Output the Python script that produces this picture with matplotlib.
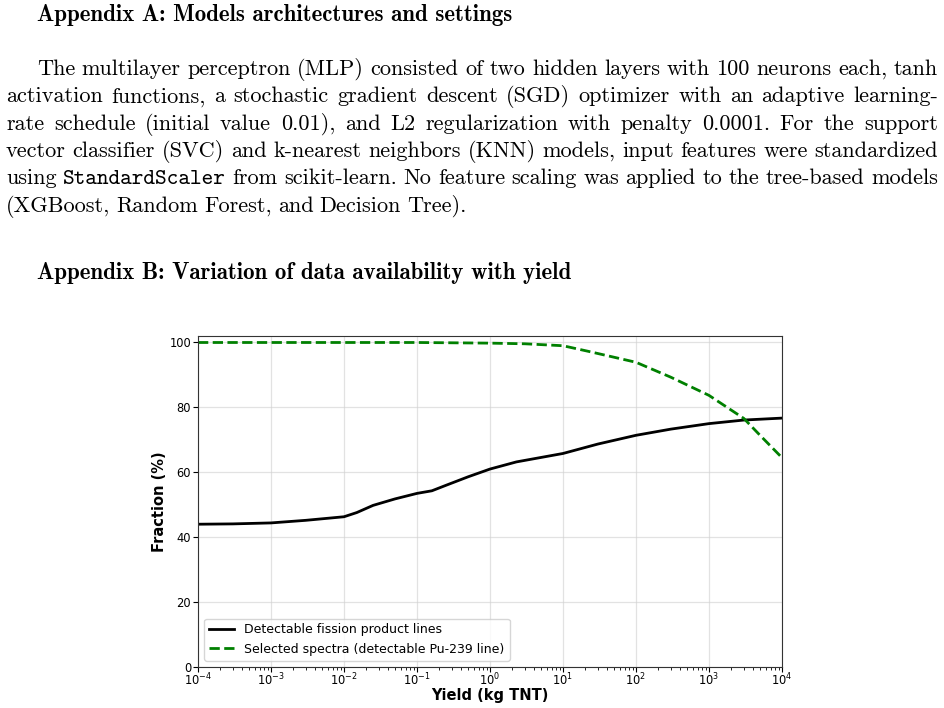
import matplotlib
matplotlib.use('Agg')
import matplotlib.pyplot as plt

W, H = 944, 708
FS = 16.0  # body font size (pt)
FS_HEAD = 16.5

heading_a = 'Appendix A: Models architectures and settings'
heading_b = 'Appendix B: Variation of data availability with yield'
para_lines = [
    'The multilayer perceptron (MLP) consisted of two hidden layers with 100 neurons each, tanh',
    'activation functions, a stochastic gradient descent (SGD) optimizer with an adaptive learning-',
    'rate schedule (initial value 0.01), and L2 regularization with penalty 0.0001.  For the support',
    'vector classifier (SVC) and k-nearest neighbors (KNN) models, input features were standardized',
    'using StandardScaler from scikit-learn. No feature scaling was applied to the tree-based models',
    '(XGBoost, Random Forest, and Decision Tree).',
]

# chart data
yield_fp = [1e-4, 3e-4, 1e-3, 3e-3, 1e-2, 1.5e-2, 2.5e-2, 5e-2, 1e-1, 1.6e-1, 2.5e-1,
            5e-1, 1e0, 2.3e0, 1e1, 3e1, 1e2, 3e2, 1e3, 3e3, 1e4]
frac_fp = [44.0, 44.1, 44.4, 45.2, 46.3, 47.6, 49.8, 51.8, 53.5, 54.3, 56.0,
           58.6, 61.0, 63.2, 65.8, 68.7, 71.4, 73.3, 75.0, 76.1, 76.7]
yield_pu = [1e-4, 1e-3, 1e-2, 1e-1, 1e0, 3e0, 1e1, 2.3e1, 1e2, 3e2, 1e3, 3e3, 5e3, 1e4]
frac_pu = [100.0, 100.0, 100.0, 100.0, 99.8, 99.6, 99.0, 97.2, 93.9, 89.3, 83.7, 76.6, 71.4, 64.5]


def fx(px):
    return px / W


def fy(py):
    return 1 - py / H


fig = plt.figure(figsize=(W / 100, H / 100), dpi=100)
renderer = fig.canvas.get_renderer()


def put_line(line, x0, x1, base, justify=True):
    texts = []
    for w in line.split():
        fam = 'cmtt10' if w == 'StandardScaler' else 'cmr10'
        texts.append(fig.text(0, fy(base), w, fontfamily=fam, fontsize=FS, va='baseline'))
    widths = [t.get_window_extent(renderer).width for t in texts]
    if justify:
        gap = (x1 - x0 - sum(widths)) / (len(texts) - 1)
    else:
        gap = FS * 100 / 72 * 0.27
    x = x0
    for t, wd in zip(texts, widths):
        t.set_x(fx(x))
        x += wd + gap


fig.text(fx(37), fy(21), heading_a, fontfamily='cmb10', fontsize=FS_HEAD, va='baseline')
fig.text(fx(37), fy(279), heading_b, fontfamily='cmb10', fontsize=FS_HEAD, va='baseline')

for i, line in enumerate(para_lines):
    base = 75 + 27.3 * i
    x0 = 37 if i == 0 else 6
    put_line(line, x0, 938, base, justify=(i < len(para_lines) - 1))

# chart
ax = fig.add_axes([fx(198), fy(667), (782 - 198) / W, (667 - 336) / H])
ax.plot(yield_fp, frac_fp, color='black', lw=2, label='Detectable fission product lines')
ax.plot(yield_pu, frac_pu, color='green', lw=2, ls='--',
        label='Selected spectra (detectable Pu-239 line)')
ax.set_xscale('log')
ax.set_xlim(1e-4, 1e4)
ax.set_ylim(0, 102)
ax.set_yticks([0, 20, 40, 60, 80, 100])
ax.grid(True, which='major', color='#d0d0d0', alpha=0.6, lw=0.9)
ax.tick_params(labelsize=8.3, pad=1.5)
ax.tick_params(axis='x', which='major', pad=0)
ax.set_xlabel('Yield (kg TNT)', fontsize=10.5, fontweight='bold', labelpad=0)
ax.set_ylabel('Fraction (%)', fontsize=10.5, fontweight='bold', labelpad=2)
for s in ax.spines.values():
    s.set_color('#333333')
ax.legend(loc='lower left', fontsize=9)

fig.savefig('out.png', dpi=100)
